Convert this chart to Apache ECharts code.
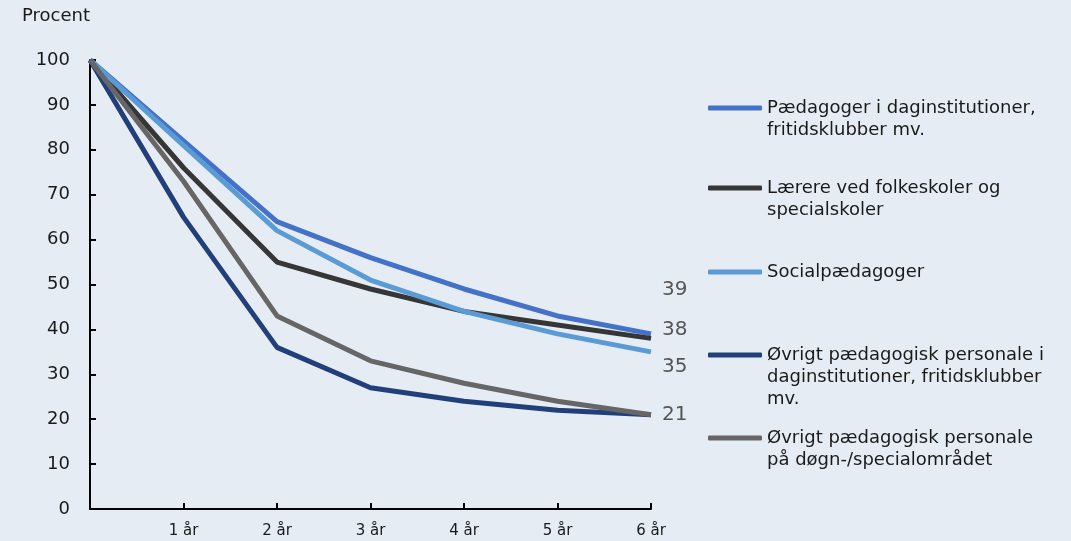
<!DOCTYPE html>
<html>
<head>
<meta charset="utf-8">
<script src="https://cdn.jsdelivr.net/npm/echarts@6/dist/echarts.min.js"></script>
<style>
html,body{margin:0;padding:0;background:#e5ecf3;}
#c{width:1071px;height:541px;}
</style>
</head>
<body>
<div id="c"></div>
<script>
const categories = ['', '1 år', '2 år', '3 år', '4 år', '5 år', '6 år'];
const seriesNames = [
  'Pædagoger i daginstitutioner,\nfritidsklubber mv.',
  'Lærere ved folkeskoler og\nspecialskoler',
  'Socialpædagoger',
  'Øvrigt pædagogisk personale i\ndaginstitutioner, fritidsklubber\nmv.',
  'Øvrigt pædagogisk personale\npå døgn-/specialområdet'
];
const paedagoger = [100, 82, 64, 56, 49, 43, 39];
const laerere = [100, 76, 55, 49, 44, 41, 38];
const socialpaed = [100, 81, 62, 51, 44, 39, 35];
const oevrigtDag = [100, 65, 36, 27, 24, 22, 21];
const oevrigtDoegn = [100, 73, 43, 33, 28, 24, 21];
const yTicks = [0, 10, 20, 30, 40, 50, 60, 70, 80, 90, 100];

const colors = ['#4472c9', '#363636', '#5b9bd5', '#213f7a', '#666666'];
const values = [paedagoger, laerere, socialpaed, oevrigtDag, oevrigtDoegn];
const endOffsets = [[11, -44], [11, -9], [11, 15], null, [11, 0]];
const legendIconY = [108, 188, 272, 355, 438];
const LH = 22;
const FONT = 'DejaVu Sans';

const chart = echarts.init(document.getElementById('c'));
const series = values.map((v, i) => ({
  name: seriesNames[i],
  type: 'line',
  data: v,
  symbol: 'none',
  lineStyle: { width: 5, color: colors[i] },
  itemStyle: { color: colors[i] },
  endLabel: endOffsets[i] ? {
    show: true,
    offset: endOffsets[i],
    distance: 0,
    color: '#555555',
    fontSize: 20,
    fontFamily: FONT,
    formatter: p => String(p.value)
  } : { show: false },
  z: 2 + i
}));

const legends = seriesNames.map((n, i) => {
  const lines = n.split('\n').length;
  return {
    show: true,
    left: 708,
    top: legendIconY[i] - (lines - 0.5) * LH,
    padding: 0,
    icon: 'roundRect',
    itemWidth: 54,
    itemHeight: 5,
    data: [n],
    selectedMode: false,
    formatter: name => '\n'.repeat(lines - 1) + name,
    textStyle: {
      fontSize: 18,
      fontFamily: FONT,
      color: '#1a1a1a',
      lineHeight: LH
    }
  };
});

chart.setOption({
  backgroundColor: '#e5ecf3',
  animation: false,
  textStyle: { fontFamily: FONT },
  grid: { left: 90, right: 420, top: 60, bottom: 32 },
  legend: legends,
  graphic: [{
    type: 'text', left: 22, top: 7,
    style: { text: 'Procent', fontSize: 18, fontFamily: FONT, fill: '#1a1a1a' }
  }],
  xAxis: {
    type: 'category',
    data: categories,
    boundaryGap: false,
    axisLine: { lineStyle: { color: '#000', width: 2 } },
    axisTick: { inside: true, length: 6, lineStyle: { color: '#000', width: 2 },
      interval: (idx) => idx > 0 },
    axisLabel: { color: '#1a1a1a', fontSize: 15, fontFamily: FONT, margin: 15, interval: 0 },
    splitLine: { show: false }
  },
  yAxis: {
    type: 'value',
    min: 0, max: 100, interval: 10,
    axisLine: { show: true, lineStyle: { color: '#000', width: 2 } },
    axisTick: { show: true, inside: true, length: 6, lineStyle: { color: '#000', width: 2 } },
    axisLabel: { color: '#1a1a1a', fontSize: 18, fontFamily: FONT, margin: 20,
      formatter: v => yTicks.includes(v) ? String(v) : '' },
    splitLine: { show: false }
  },
  series: series
});
</script>
</body>
</html>
